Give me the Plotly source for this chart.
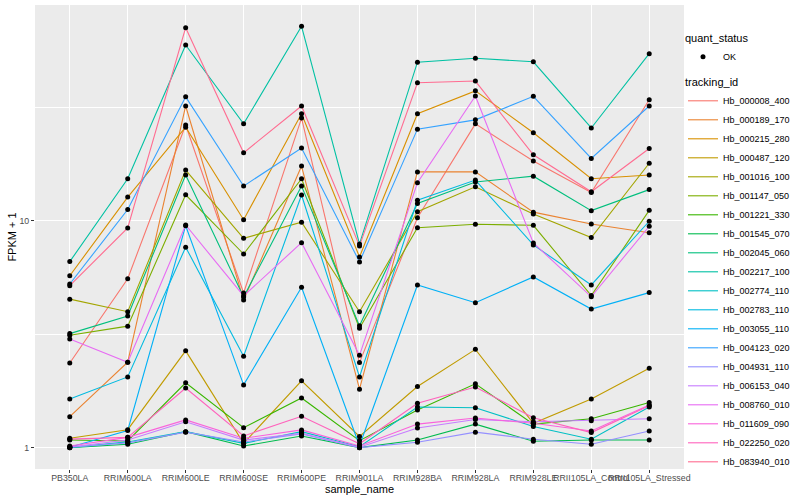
import plotly.graph_objects as go

samples = ["PB350LA", "RRIM600LA", "RRIM600LE", "RRIM600SE", "RRIM600PE",
           "RRIM901LA", "RRIM928BA", "RRIM928LA", "RRIM928LE",
           "RRII105LA_Control", "RRII105LA_Stressed"]

tracking_ids = ["Hb_000008_400", "Hb_000189_170", "Hb_000215_280", "Hb_000487_120",
                "Hb_001016_100", "Hb_001147_050", "Hb_001221_330", "Hb_001545_070",
                "Hb_002045_060", "Hb_002217_100", "Hb_002774_110", "Hb_002783_110",
                "Hb_003055_110", "Hb_004123_020", "Hb_004931_110", "Hb_006153_040",
                "Hb_008760_010", "Hb_011609_090", "Hb_022250_020", "Hb_083940_010"]

colors = ["#F8766D", "#EA8331", "#D89000", "#C09B00", "#A3A500", "#7CAE00", "#39B600",
          "#00BB4E", "#00BF7D", "#00C1A3", "#00BFC4", "#00BAE0", "#00B0F6", "#35A2FF",
          "#9590FF", "#C77CFF", "#E76BF3", "#FA62DB", "#FF62BC", "#FF6C91"]

# FPKM + 1 per sample (order of `samples`)
hb_000008_400 = [2.36, 5.55, 26.4, 4.80, 28.3, 2.37, 10.3, 26.7, 18.3, 13.3, 34.1]
hb_000189_170 = [1.37, 2.38, 32.0, 4.47, 17.4, 1.81, 16.4, 16.4, 10.9, 9.67, 8.85]
hb_000215_280 = [5.72, 12.7, 25.8, 10.1, 29.6, 6.92, 29.6, 37.3, 24.4, 15.3, 15.9]
hb_000487_120 = [1.10, 1.20, 2.67, 1.045, 1.97, 1.12, 1.86, 2.71, 1.28, 1.64, 2.24]
hb_001016_100 = [4.51, 3.97, 16.7, 8.36, 9.84, 3.97, 10.95, 14.1, 10.7, 8.42, 17.9]
hb_001147_050 = [3.13, 3.43, 13.0, 7.13, 15.3, 3.36, 9.31, 9.64, 9.54, 4.68, 11.1]
hb_001221_330 = [1.08, 1.07, 1.93, 1.225, 1.655, 1.074, 1.466, 1.91, 1.27, 1.34, 1.58]
hb_001545_070 = [1.0, 1.035, 1.176, 1.017, 1.126, 1.0, 1.08, 1.27, 1.067, 1.08, 1.08]
hb_002045_060 = [3.18, 3.80, 15.9, 4.61, 14.2, 3.44, 11.9, 14.8, 15.7, 11.07, 13.7]
hb_002217_100 = [6.6, 15.3, 59.4, 26.7, 71.8, 7.9, 49.9, 51.9, 50.1, 25.6, 54.4]
hb_002774_110 = [1.0, 1.06, 1.176, 1.045, 1.176, 1.01, 1.51, 1.50, 1.24, 1.089, 1.51]
hb_002783_110 = [1.64, 2.05, 7.64, 2.53, 12.97, 2.05, 12.3, 15.1, 7.82, 5.21, 9.94]
hb_003055_110 = [1.005, 1.19, 9.5, 1.89, 5.09, 1.02, 5.21, 4.35, 5.65, 4.08, 4.82]
hb_004123_020 = [5.26, 11.2, 35.1, 14.2, 20.9, 6.58, 25.3, 27.8, 35.3, 18.8, 32.0]
hb_004931_110 = [1.004, 1.05, 1.17, 1.06, 1.15, 1.0, 1.056, 1.17, 1.089, 1.035, 1.185]
hb_006153_040 = [1.007, 1.08, 1.30, 1.08, 1.157, 1.004, 1.22, 1.33, 1.30, 1.315, 1.34]
hb_008760_010 = [3.01, 2.38, 9.57, 4.66, 8.0, 2.55, 14.7, 35.4, 7.98, 4.62, 9.45]
hb_011609_090 = [1.017, 1.11, 1.325, 1.10, 1.197, 1.017, 1.27, 1.35, 1.28, 1.185, 1.54]
hb_022250_020 = [1.09, 1.11, 1.83, 1.126, 1.375, 1.04, 1.57, 1.85, 1.355, 1.165, 1.53]
hb_083940_010 = [5.17, 9.29, 70.8, 19.9, 32.0, 7.74, 40.5, 41.2, 19.5, 13.4, 20.8]

series = [hb_000008_400, hb_000189_170, hb_000215_280, hb_000487_120, hb_001016_100,
          hb_001147_050, hb_001221_330, hb_001545_070, hb_002045_060, hb_002217_100,
          hb_002774_110, hb_002783_110, hb_003055_110, hb_004123_020, hb_004931_110,
          hb_006153_040, hb_008760_010, hb_011609_090, hb_022250_020, hb_083940_010]

FONT = "Liberation Sans, Arial, Helvetica, sans-serif"

fig = go.Figure()
for tid, col, vals in zip(tracking_ids, colors, series):
    fig.add_trace(go.Scatter(x=samples, y=vals, mode="lines", name=tid,
                             line=dict(color=col, width=1.1), legend="legend"))

px_all, py_all = [], []
for vals in series:
    px_all += samples
    py_all += vals
fig.add_trace(go.Scatter(x=px_all, y=py_all, mode="markers", name="OK",
                         marker=dict(color="black", size=5, symbol="circle"),
                         legend="legend2"))

fig.update_layout(
    width=800, height=500,
    margin=dict(l=35, r=116, t=5, b=31, autoexpand=False),
    plot_bgcolor="#EBEBEB", paper_bgcolor="white",
    font=dict(family=FONT, color="black", size=11),
    xaxis=dict(type="category", categoryorder="array", categoryarray=samples,
               range=[-0.6, 10.6], showgrid=True, gridcolor="white", gridwidth=1.1,
               zeroline=False, showline=False, tickangle=0,
               ticks="outside", ticklen=3, tickcolor="#333333", tickwidth=1,
               ticklabelstandoff=-3,
               tickfont=dict(size=8.8, color="#4D4D4D"),
               title=dict(text="sample_name", font=dict(size=11), standoff=1)),
    yaxis=dict(type="log", range=[-0.094, 1.95], tickvals=[1, 10], ticktext=["1", "10"],
               showgrid=True, gridcolor="white", gridwidth=1.1, zeroline=False,
               showline=False, ticks="outside", ticklen=3, tickcolor="#333333",
               tickfont=dict(size=8.8, color="#4D4D4D"),
               minor=dict(tickvals=[3.1623, 31.623], showgrid=True,
                          gridcolor="white", gridwidth=0.5, ticks=""),
               title=dict(text="FPKM + 1", font=dict(size=11), standoff=0)),
    legend=dict(title=dict(text="tracking_id", font=dict(size=11)),
                font=dict(size=9), xref="container", yref="container",
                x=683 / 800, y=1 - 72 / 500, xanchor="left", yanchor="top",
                itemwidth=30, bgcolor="rgba(0,0,0,0)", tracegroupgap=0,
                maxheight=440),
    legend2=dict(title=dict(text="quant_status", font=dict(size=11)),
                 font=dict(size=9), xref="container", yref="container",
                 x=683 / 800, y=1 - 28 / 500, xanchor="left", yanchor="top",
                 itemwidth=30, bgcolor="rgba(0,0,0,0)"),
)

fig.write_html("out.html", config={"displayModeBar": False},
               post_script="document.body.style.margin='0';")
